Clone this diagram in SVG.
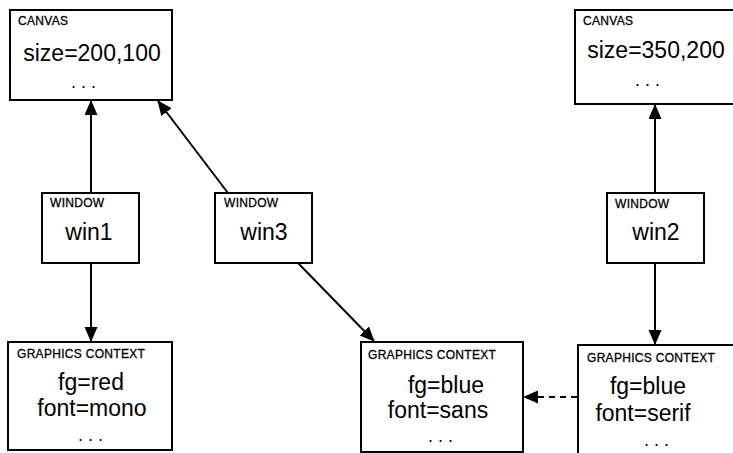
<svg xmlns="http://www.w3.org/2000/svg" width="733" height="453" viewBox="0 0 733 453">
<defs>
<style>
.box{fill:#fff;stroke:#000;stroke-width:2}
.lbl{font-family:"Liberation Sans",Arial,sans-serif;font-size:12px;letter-spacing:0.3px;fill:#000;stroke:#000;stroke-width:0.3px}
.txt{font-family:"Liberation Sans",Arial,sans-serif;font-size:23px;fill:#000;text-anchor:middle}
.dots{font-family:"Liberation Sans",Arial,sans-serif;font-size:18px;fill:#000;text-anchor:middle;letter-spacing:5px}
.edge{stroke:#000;stroke-width:2;fill:none;marker-end:url(#ah)}
.dash{stroke-dasharray:6 5}
</style>
<marker id="ah" markerUnits="userSpaceOnUse" markerWidth="16" markerHeight="14" refX="14" refY="6.5" orient="auto">
<path d="M0,0 L15,6.5 L0,13 z" fill="#000"/>
</marker>
</defs>
<rect width="733" height="453" fill="#fff"/>
<g id="connectors">
<line class="edge" x1="91" y1="193" x2="91" y2="101"/>
<line class="edge" x1="91" y1="263" x2="91" y2="341"/>
<line class="edge" x1="228" y1="193" x2="158" y2="101"/>
<line class="edge" x1="298" y1="263" x2="374" y2="341"/>
<line class="edge" x1="655" y1="193" x2="655" y2="105"/>
<line class="edge" x1="655" y1="263" x2="655" y2="344"/>
<line class="edge dash" x1="577" y1="397" x2="524" y2="397"/>
</g>
<g id="canvas1">
<rect class="box" x="10" y="10" width="162" height="90"/>
<text class="lbl" x="18" y="25">CANVAS</text>
<text class="txt" x="92" y="61">size=200,100</text>
<text class="dots" x="86" y="88">...</text>
</g>
<g id="canvas2">
<rect class="box" x="575" y="10" width="170" height="94"/>
<text class="lbl" x="583" y="25">CANVAS</text>
<text class="txt" x="656" y="58">size=350,200</text>
<text class="dots" x="650" y="86">...</text>
</g>
<g id="win1">
<rect class="box" x="42" y="193" width="97" height="70"/>
<text class="lbl" x="50" y="207">WINDOW</text>
<text class="txt" x="89" y="240">win1</text>
</g>
<g id="win3">
<rect class="box" x="215" y="193" width="97" height="70"/>
<text class="lbl" x="224" y="207">WINDOW</text>
<text class="txt" x="264" y="240">win3</text>
</g>
<g id="win2">
<rect class="box" x="607" y="193" width="97" height="70"/>
<text class="lbl" x="615" y="208">WINDOW</text>
<text class="txt" x="656" y="240">win2</text>
</g>
<g id="gc1">
<rect class="box" x="8" y="342" width="164" height="108"/>
<text class="lbl" x="17" y="358">GRAPHICS CONTEXT</text>
<text class="txt" x="91" y="390">fg=red</text>
<text class="txt" x="92" y="416">font=mono</text>
<text class="dots" x="93" y="441">...</text>
</g>
<g id="gc2">
<rect class="box" x="361" y="342" width="162" height="110"/>
<text class="lbl" x="368" y="359">GRAPHICS CONTEXT</text>
<text class="txt" x="446" y="393">fg=blue</text>
<text class="txt" x="438" y="418">font=sans</text>
<text class="dots" x="443" y="442">...</text>
</g>
<g id="gc3">
<rect class="box" x="578" y="345" width="170" height="120"/>
<text class="lbl" x="587" y="362">GRAPHICS CONTEXT</text>
<text class="txt" x="648" y="394">fg=blue</text>
<text class="txt" x="643" y="421">font=serif</text>
<text class="dots" x="659" y="446">...</text>
</g>
</svg>
